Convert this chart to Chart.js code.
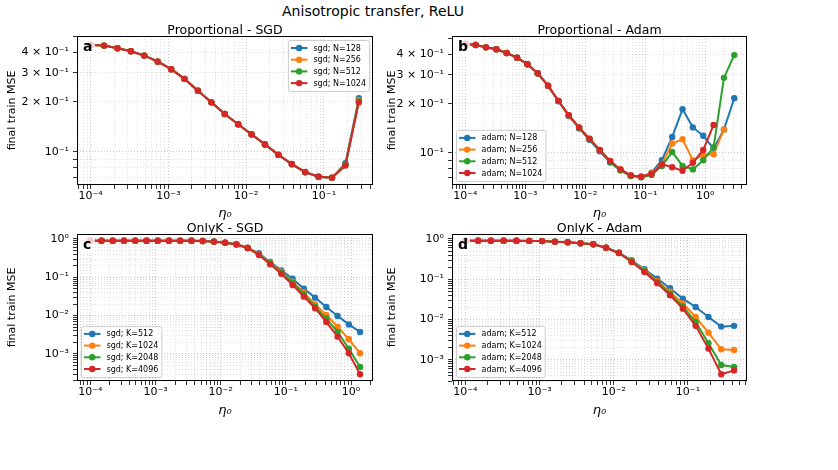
<!DOCTYPE html>
<html>
<head>
<meta charset="utf-8">
<script src="https://cdn.jsdelivr.net/npm/chart.js@4.4.0/dist/chart.umd.min.js"></script>
<style>
  html, body { margin: 0; padding: 0; background: #fff; }
  #fig { position: relative; width: 838px; height: 470px; overflow: hidden; background: #fff; }
  #fig canvas { position: absolute; }
  #suptitle { position: absolute; left: 0; width: 746px; top: 3px; text-align: center;
              font: 14px 'DejaVu Sans'; color: #000; }
</style>
</head>
<body>
<div id="fig">
  <div id="suptitle">Anisotropic transfer, ReLU</div>
  <canvas id="chartA" width="380" height="223" style="left:0;top:0"></canvas>
  <canvas id="chartB" width="458" height="223" style="left:380px;top:0"></canvas>
  <canvas id="chartC" width="380" height="197" style="left:0;top:223px"></canvas>
  <canvas id="chartD" width="458" height="197" style="left:380px;top:223px"></canvas>
</div>
<script>
// learning rates eta_0 (shared x grid)
const etas = [1.000e-4, 1.487e-4, 2.212e-4, 3.290e-4, 4.894e-4, 7.279e-4, 1.083e-3, 1.610e-3,
              2.395e-3, 3.562e-3, 5.298e-3, 7.880e-3, 1.172e-2, 1.743e-2, 2.593e-2, 3.857e-2,
              5.736e-2, 8.532e-2, 0.1269, 0.1887, 0.2807, 0.4175, 0.6210, 0.9237, 1.374, 2.043, 3.039];

// (a) Proportional - SGD
const propSgdLabels = ['sgd; N=128', 'sgd; N=256', 'sgd; N=512', 'sgd; N=1024'];
const propSgd128  = [0.444, 0.439, 0.424, 0.406, 0.382, 0.352, 0.316, 0.276, 0.234, 0.199, 0.169, 0.146, 0.127, 0.110, 0.0955, 0.0838, 0.0750, 0.0703, 0.0694, 0.0850, 0.211];
const propSgd256  = [0.443, 0.439, 0.423, 0.406, 0.382, 0.351, 0.316, 0.276, 0.234, 0.199, 0.169, 0.1466, 0.1273, 0.1108, 0.0958, 0.0841, 0.0752, 0.0705, 0.0695, 0.0835, 0.206];
const propSgd512  = [0.443, 0.439, 0.423, 0.406, 0.382, 0.351, 0.316, 0.276, 0.234, 0.199, 0.169, 0.1465, 0.1272, 0.1107, 0.0956, 0.0840, 0.0751, 0.0704, 0.0695, 0.0830, 0.202];
const propSgd1024 = [0.443, 0.439, 0.423, 0.406, 0.382, 0.351, 0.316, 0.276, 0.234, 0.199, 0.169, 0.1466, 0.1274, 0.1109, 0.0959, 0.0842, 0.0753, 0.0706, 0.0696, 0.0823, 0.199];

// (b) Proportional - Adam
const propAdamLabels = ['adam; N=128', 'adam; N=256', 'adam; N=512', 'adam; N=1024'];
const propAdam128  = [0.464, 0.458, 0.443, 0.431, 0.409, 0.383, 0.349, 0.306, 0.257, 0.207, 0.168, 0.141, 0.120, 0.102, 0.087, 0.078, 0.0722, 0.0712, 0.0755, 0.090, 0.125, 0.185, 0.143, 0.127, 0.106, 0.139, 0.216];
const propAdam256  = [0.464, 0.458, 0.443, 0.431, 0.409, 0.383, 0.349, 0.307, 0.258, 0.208, 0.170, 0.143, 0.122, 0.104, 0.089, 0.079, 0.0726, 0.0713, 0.075, 0.085, 0.114, 0.121, 0.090, 0.097, 0.098, 0.139];
const propAdam512  = [0.464, 0.458, 0.443, 0.431, 0.409, 0.383, 0.349, 0.307, 0.258, 0.208, 0.169, 0.142, 0.121, 0.103, 0.088, 0.078, 0.0720, 0.0708, 0.073, 0.083, 0.101, 0.083, 0.079, 0.090, 0.108, 0.288, 0.397];
const propAdam1024 = [0.464, 0.458, 0.443, 0.431, 0.409, 0.383, 0.349, 0.307, 0.258, 0.208, 0.170, 0.143, 0.122, 0.104, 0.089, 0.079, 0.0726, 0.0713, 0.074, 0.085, 0.0814, 0.0776, 0.0868, 0.104, 0.148];

// (c) OnlyK - SGD
const onlySgdLabels = ['sgd; K=512', 'sgd; K=1024', 'sgd; K=2048', 'sgd; K=4096'];
const onlySgd512  = [0.905, 0.905, 0.905, 0.905, 0.905, 0.905, 0.904, 0.903, 0.902, 0.900, 0.890, 0.857, 0.805, 0.730, 0.594, 0.423, 0.251, 0.152, 0.092, 0.0506, 0.0295, 0.0168, 0.0098, 0.0059, 0.00375];
const onlySgd1024 = [0.905, 0.905, 0.905, 0.905, 0.905, 0.905, 0.904, 0.903, 0.902, 0.900, 0.889, 0.855, 0.803, 0.727, 0.590, 0.410, 0.240, 0.140, 0.077, 0.040, 0.0197, 0.0104, 0.00515, 0.00242, 0.00104];
const onlySgd2048 = [0.905, 0.905, 0.905, 0.905, 0.905, 0.905, 0.904, 0.903, 0.902, 0.900, 0.888, 0.854, 0.802, 0.725, 0.585, 0.400, 0.232, 0.132, 0.0726, 0.036, 0.0171, 0.0083, 0.00375, 0.00137, 0.000457];
const onlySgd4096 = [0.905, 0.905, 0.905, 0.905, 0.905, 0.905, 0.904, 0.903, 0.902, 0.900, 0.887, 0.852, 0.800, 0.720, 0.575, 0.383, 0.218, 0.124, 0.063, 0.0313, 0.0156, 0.0068, 0.00283, 0.00104, 0.000295];

// (d) OnlyK - Adam
const onlyAdamLabels = ['adam; K=512', 'adam; K=1024', 'adam; K=2048', 'adam; K=4096'];
const onlyAdam512  = [0.910, 0.910, 0.908, 0.905, 0.902, 0.897, 0.887, 0.860, 0.830, 0.785, 0.740, 0.610, 0.460, 0.296, 0.177, 0.104, 0.060, 0.033, 0.0206, 0.0116, 0.0067, 0.0070];
const onlyAdam1024 = [0.910, 0.910, 0.908, 0.905, 0.902, 0.897, 0.887, 0.860, 0.830, 0.785, 0.740, 0.608, 0.455, 0.285, 0.167, 0.091, 0.049, 0.025, 0.0116, 0.00475, 0.00184, 0.00177];
const onlyAdam2048 = [0.910, 0.910, 0.908, 0.905, 0.902, 0.897, 0.887, 0.860, 0.830, 0.785, 0.740, 0.606, 0.452, 0.278, 0.160, 0.0857, 0.044, 0.0211, 0.0087, 0.00259, 0.00075, 0.00067];
const onlyAdam4096 = [0.910, 0.910, 0.908, 0.905, 0.902, 0.897, 0.887, 0.860, 0.830, 0.785, 0.740, 0.605, 0.448, 0.269, 0.152, 0.0796, 0.040, 0.0187, 0.0070, 0.00191, 0.00044, 0.00055];

// tick labels
const xTickValues = [1e-4, 1e-3, 1e-2, 1e-1, 1];
const xTickLabels = ['10⁻⁴', '10⁻³', '10⁻²', '10⁻¹', '10⁰'];
const yTickValuesProp = [0.1, 0.2, 0.3, 0.4];
const yTickLabelsProp = ['10⁻¹', '2 × 10⁻¹', '3 × 10⁻¹', '4 × 10⁻¹'];
const yTickValuesOnly = [1e-3, 1e-2, 1e-1, 1];
const yTickLabelsOnly = ['10⁻³', '10⁻²', '10⁻¹', '10⁰'];

const colors = ['#1f77b4', '#ff7f0e', '#2ca02c', '#d62728'];

Chart.defaults.font.family = "'DejaVu Sans'";
Chart.defaults.color = '#000';

// all 1..9 x 10^n positions inside the range (grid lines + tick marks)
function logTicks(min, max) {
    const out = [];
    for (let e = Math.floor(Math.log10(min)); e <= Math.ceil(Math.log10(max)); e++) {
        for (let m = 1; m <= 9; m++) {
            const v = m * Math.pow(10, e);
            if (v >= min && v <= max) out.push({ value: v });
        }
    }
    return out;
}

function labelFor(values, labels) {
    return function (v) {
        for (let i = 0; i < values.length; i++) {
            if (Math.abs(Math.log10(v) - Math.log10(values[i])) < 1e-6) return labels[i];
        }
        return '';
    };
}

function gridColor(ctx) {
    const v = ctx.tick ? ctx.tick.value : 1;
    const m = v / Math.pow(10, Math.floor(Math.log10(v) + 1e-9));
    return Math.abs(m - 1) < 1e-6 ? 'rgba(0,0,0,0.22)' : 'rgba(0,0,0,0.12)';
}

// panel frame, title, letter and matplotlib-like legend
const panelDecor = {
    id: 'panelDecor',
    afterDraw(chart, args, opts) {
        const ctx = chart.ctx;
        const a = chart.chartArea;
        ctx.save();

        ctx.strokeStyle = '#000';
        ctx.lineWidth = 1;
        ctx.strokeRect(Math.round(a.left) + 0.5, Math.round(a.top) + 0.5,
                       Math.round(a.right - a.left) - 1, Math.round(a.bottom - a.top) - 1);

        ctx.fillStyle = '#000';
        ctx.textAlign = 'center';
        ctx.textBaseline = 'alphabetic';
        ctx.font = "12.5px 'DejaVu Sans'";
        ctx.fillText(opts.title, (a.left + a.right) / 2, a.top - 2);

        // panel letter on a translucent white box
        ctx.fillStyle = 'rgba(255,255,255,0.75)';
        ctx.fillRect(a.left + 3, a.top + 2, 15, 17);
        ctx.fillStyle = '#000';
        ctx.textAlign = 'left';
        ctx.font = "bold 14px 'DejaVu Sans'";
        ctx.fillText(opts.letter, a.left + 6, a.top + 15);

        // legend
        const sets = chart.data.datasets;
        ctx.font = "8px 'DejaVu Sans'";
        const tw = Math.max(...sets.map(d => ctx.measureText(d.label).width));
        const rowH = 11.7, pad = 4, bpad = 3, hl = 16.5, gap = 6;
        const w = bpad + hl + gap + tw + bpad;
        const h = 16 + rowH * (sets.length - 1);
        const x0 = opts.legendLoc === 'ur' ? a.right - pad - w : a.left + pad;
        const y0 = opts.legendLoc === 'ur' ? a.top + pad : a.bottom - pad - h;

        ctx.beginPath();
        ctx.roundRect(x0 + 0.5, y0 + 0.5, w, h, 2);
        ctx.fillStyle = 'rgba(255,255,255,0.8)';
        ctx.fill();
        ctx.strokeStyle = '#cccccc';
        ctx.stroke();

        sets.forEach((d, i) => {
            const cy = y0 + 8 + i * rowH;
            const lx = x0 + bpad;
            ctx.strokeStyle = d.borderColor;
            ctx.lineWidth = 2;
            ctx.beginPath();
            ctx.moveTo(lx, cy);
            ctx.lineTo(lx + hl, cy);
            ctx.stroke();
            ctx.fillStyle = d.borderColor;
            ctx.beginPath();
            ctx.arc(lx + hl / 2, cy, 3.2, 0, Math.PI * 2);
            ctx.fill();
            ctx.fillStyle = '#000';
            ctx.textBaseline = 'middle';
            ctx.fillText(d.label, lx + hl + gap, cy + 0.5);
        });
        ctx.restore();
    }
};

function makePanel(id, p) {
    const datasets = p.series.map((vals, i) => ({
        label: p.labels[i],
        data: vals.map((v, k) => ({ x: etas[k], y: v })),
        borderColor: colors[i],
        backgroundColor: colors[i],
        pointBackgroundColor: colors[i],
        pointBorderWidth: 0,
        pointRadius: 3.2,
        borderWidth: 2,
        order: 4 - i
    }));
    const tickFont = { family: 'DejaVu Sans', size: 11 };
    return new Chart(document.getElementById(id), {
        type: 'line',
        data: { datasets: datasets },
        plugins: [panelDecor],
        options: {
            responsive: false,
            animation: false,
            devicePixelRatio: 1,
            layout: { padding: { left: 0, top: p.padTop, right: p.padRight, bottom: 0 } },
            plugins: {
                legend: { display: false },
                tooltip: { enabled: false },
                panelDecor: { title: p.title, letter: p.letter, legendLoc: p.legendLoc }
            },
            scales: {
                x: {
                    type: 'logarithmic',
                    min: p.xMin, max: p.xMax,
                    afterBuildTicks: s => { s.ticks = logTicks(s.min, s.max); },
                    afterFit: s => { s.height = p.xH; },
                    ticks: { autoSkip: false, maxRotation: 0, padding: 1, color: '#000', font: tickFont,
                             callback: labelFor(xTickValues, xTickLabels) },
                    grid: { color: gridColor, tickColor: '#000', tickLength: 4, tickWidth: 0.8 },
                    border: { display: false, dash: [1, 2] },
                    title: { display: true, text: 'η₀', color: '#000',
                             font: { family: 'DejaVu Sans', size: 13, style: 'italic' },
                             padding: { top: 0, bottom: 2 } }
                },
                y: {
                    type: 'logarithmic',
                    min: p.yMin, max: p.yMax,
                    afterBuildTicks: s => { s.ticks = logTicks(s.min, s.max); },
                    afterFit: s => { s.width = p.yW; },
                    ticks: { autoSkip: false, padding: 4, color: '#000', font: tickFont,
                             callback: labelFor(p.yTickValues, p.yTickLabels) },
                    grid: { color: gridColor, tickColor: '#000', tickLength: 4, tickWidth: 0.8 },
                    border: { display: false, dash: [1, 2] },
                    title: { display: true, text: 'final train MSE', color: '#000',
                             font: { family: 'DejaVu Sans', size: 11 },
                             padding: { top: 6, bottom: 0 } }
                }
            }
        }
    });
}

makePanel('chartA', {
    title: 'Proportional - SGD', letter: 'a', legendLoc: 'ur',
    labels: propSgdLabels, series: [propSgd128, propSgd256, propSgd512, propSgd1024],
    xMin: 6.67e-5, xMax: 0.427, yMin: 0.0628, yMax: 0.502,
    yTickValues: yTickValuesProp, yTickLabels: yTickLabelsProp,
    padTop: 36, padRight: 7, yW: 77, xH: 38
});
makePanel('chartB', {
    title: 'Proportional - Adam', letter: 'b', legendLoc: 'll',
    labels: propAdamLabels, series: [propAdam128, propAdam256, propAdam512, propAdam1024],
    xMin: 6.0e-5, xMax: 4.95, yMin: 0.0634, yMax: 0.520,
    yTickValues: yTickValuesProp, yTickLabels: yTickLabelsProp,
    padTop: 36, padRight: 91, yW: 72, xH: 38
});
makePanel('chartC', {
    title: 'OnlyK - SGD', letter: 'c', legendLoc: 'll',
    labels: onlySgdLabels, series: [onlySgd512, onlySgd1024, onlySgd2048, onlySgd4096],
    xMin: 6.25e-5, xMax: 2.17, yMin: 1.97e-4, yMax: 1.35,
    yTickValues: yTickValuesOnly, yTickLabels: yTickLabelsOnly,
    padTop: 11, padRight: 7, yW: 77, xH: 39
});
makePanel('chartD', {
    title: 'OnlyK - Adam', letter: 'd', legendLoc: 'll',
    labels: onlyAdamLabels, series: [onlyAdam512, onlyAdam1024, onlyAdam2048, onlyAdam4096],
    xMin: 6.62e-5, xMax: 0.624, yMin: 3.01e-4, yMax: 1.33,
    yTickValues: yTickValuesOnly, yTickLabels: yTickLabelsOnly,
    padTop: 11, padRight: 91, yW: 72, xH: 39
});
</script>
</body>
</html>
